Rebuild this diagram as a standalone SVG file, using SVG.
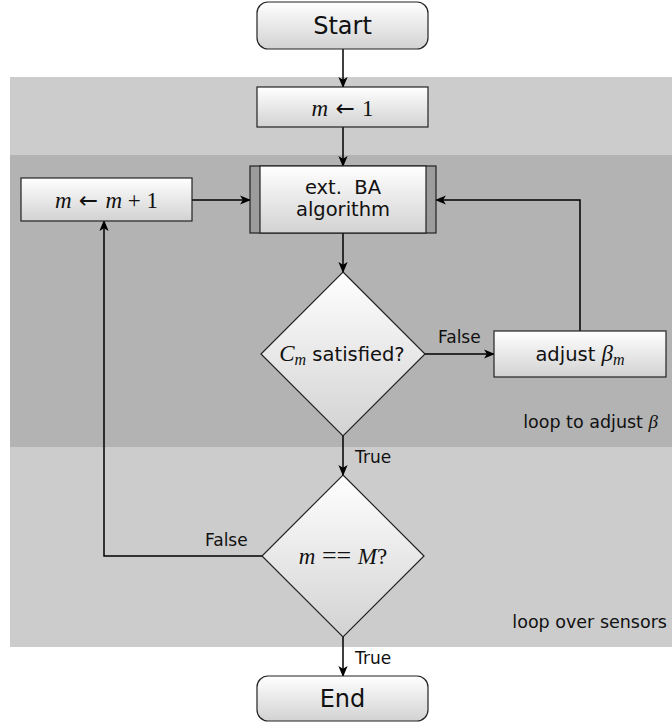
<svg xmlns="http://www.w3.org/2000/svg" width="672" height="724" viewBox="0 0 672 724">
<defs>
<linearGradient id="g" x1="0" y1="0" x2="0" y2="1">
<stop offset="0" stop-color="#ffffff"/>
<stop offset="1" stop-color="#d2d2d2"/>
</linearGradient>
<marker id="arr" viewBox="0 0 10 10" refX="9" refY="5" markerWidth="11" markerHeight="11" markerUnits="userSpaceOnUse" orient="auto">
<path d="M0,0.8 L10,5 L0,9.2 L2.5,5 Z" fill="#000"/>
</marker>
<style>
.node{fill:url(#g);stroke:#222;stroke-width:1.2}
.bar{fill:#9c9c9c;stroke:#222;stroke-width:1.2}
.t{font-family:"DejaVu Sans",sans-serif;fill:#111}
.m{font-family:"Liberation Serif",serif;font-style:italic;fill:#111}
.r{font-family:"Liberation Serif",serif;font-style:normal;fill:#111}
.a{font-family:"DejaVu Sans",sans-serif;font-style:normal;fill:#111}
.c{fill:none;stroke:#000;stroke-width:1.5;marker-end:url(#arr)}
</style>
</defs>
<g id="bands">
<rect x="10" y="77" width="662" height="78" fill="#cccccc"/>
<rect x="10" y="155" width="662" height="292" fill="#b3b3b3"/>
<rect x="10" y="447" width="662" height="200" fill="#cccccc"/>
<text class="t" x="658" y="428" font-size="17.5" text-anchor="end">loop to adjust <tspan class="m" font-size="19">β</tspan></text>
<text class="t" x="667" y="628" font-size="17.5" text-anchor="end">loop over sensors</text>
</g>
<g id="connectors">
<line class="c" x1="343" y1="49" x2="343" y2="87"/>
<line class="c" x1="343" y1="127" x2="343" y2="166"/>
<line class="c" x1="343" y1="233" x2="343" y2="272"/>
<line class="c" x1="192" y1="200" x2="250" y2="200"/>
<line class="c" x1="425" y1="354" x2="494" y2="354"/>
<polyline class="c" points="580,331 580,200 436,200"/>
<line class="c" x1="343" y1="436" x2="343" y2="475"/>
<polyline class="c" points="262,556 104,556 104,221"/>
<line class="c" x1="343" y1="637" x2="343" y2="676"/>
<text class="t" x="438" y="343" font-size="17">False</text>
<text class="t" x="355" y="463" font-size="17">True</text>
<text class="t" x="205" y="546" font-size="17">False</text>
<text class="t" x="355" y="664" font-size="17">True</text>
</g>
<g id="start">
<rect class="node" x="257" y="2" width="171" height="47" rx="11"/>
<text class="t" x="342.5" y="34" font-size="24" text-anchor="middle">Start</text>
</g>
<g id="init">
<rect class="node" x="257" y="87" width="171" height="40"/>
<text class="m" x="342.5" y="116" font-size="23" text-anchor="middle">m<tspan class="a"> ← </tspan><tspan class="r">1</tspan></text>
</g>
<g id="inc">
<rect class="node" x="21" y="178" width="171" height="43"/>
<text class="m" x="106.5" y="208" font-size="23" text-anchor="middle">m<tspan class="a"> ← </tspan>m<tspan class="r"> + 1</tspan></text>
</g>
<g id="ba">
<rect class="bar" x="250" y="166" width="186" height="67"/>
<rect class="node" x="260" y="166" width="166" height="67"/>
<text class="t" x="343" y="194" font-size="19.5" text-anchor="middle">ext.&#160; BA</text>
<text class="t" x="343" y="216" font-size="19.5" text-anchor="middle">algorithm</text>
</g>
<g id="cond">
<polygon class="node" points="343,272 425,354 343,436 261,354"/>
<text class="t" x="342" y="361" font-size="19.5" text-anchor="middle"><tspan class="m" font-size="23">C</tspan><tspan class="m" font-size="16" dy="4">m</tspan><tspan dy="-4"> satisfied?</tspan></text>
</g>
<g id="adjust">
<rect class="node" x="494" y="331" width="172" height="46"/>
<text class="t" x="580" y="361" font-size="19.5" text-anchor="middle">adjust <tspan class="m" font-size="23">β</tspan><tspan class="m" font-size="16" dy="4">m</tspan></text>
</g>
<g id="check">
<polygon class="node" points="343,475 424,556 343,637 262,556"/>
<text class="m" x="343" y="564" font-size="23" text-anchor="middle">m<tspan class="r" font-size="26"> == </tspan>M<tspan class="r">?</tspan></text>
</g>
<g id="end">
<rect class="node" x="257" y="676" width="171" height="45" rx="11"/>
<text class="t" x="342.5" y="707" font-size="24" text-anchor="middle">End</text>
</g>
</svg>
